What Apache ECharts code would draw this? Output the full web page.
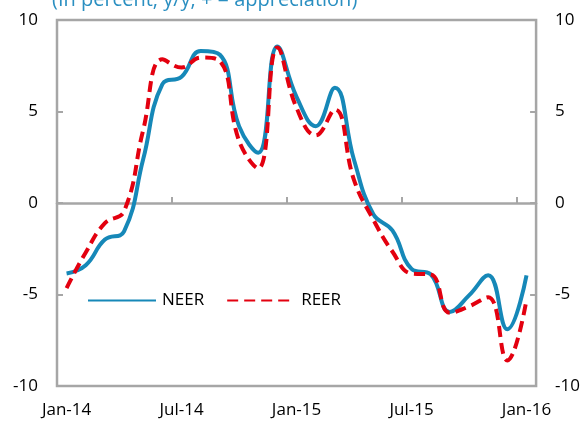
<!DOCTYPE html>
<html>
<head>
<meta charset="utf-8">
<script src="https://cdn.jsdelivr.net/npm/echarts@6/dist/echarts.min.js"></script>
<style>
  html, body { margin: 0; padding: 0; background: #fff; }
  #chart { width: 583px; height: 424px; }
</style>
</head>
<body>
<div id="chart"></div>
<script>
// monthly, Jan-14 .. Jan-16
const months = [
  "Jan-14", "Feb-14", "Mar-14", "Apr-14", "May-14", "Jun-14", "Jul-14", "Aug-14", "Sep-14", "Oct-14", "Nov-14", "Dec-14",
  "Jan-15", "Feb-15", "Mar-15", "Apr-15", "May-15", "Jun-15", "Jul-15", "Aug-15", "Sep-15", "Oct-15", "Nov-15", "Dec-15",
  "Jan-16"
];
const neer = [-3.85, -3.4, -2.0, -1.55, 2.4, 6.5, 6.9, 8.3, 8.1, 4.2, 2.75, 8.55,
  5.8, 4.2, 6.3, 2.35, -0.6, -1.5, -3.6, -3.9, -5.95, -5.05, -3.95, -6.9, -3.95];
const reer = [-4.65, -2.7, -1.1, -0.45, 4.0, 7.85, 7.4, 7.95, 7.75, 3.4, 1.9, 8.5,
  5.2, 3.7, 5.1, 1.25, -0.9, -2.65, -3.85, -3.9, -6.0, -5.65, -5.15, -8.6, -5.3];
const yMin = -10, yMax = 10, yStep = 5;
const subtitle = "(In percent, y/y, + = appreciation)";

const font = "'Open Sans', sans-serif";
const gray = "#a6a6a6";

const chart = echarts.init(document.getElementById("chart"));

function valueAxis(position) {
  return {
    type: "value",
    position: position,
    min: yMin,
    max: yMax,
    interval: yStep,
    splitLine: { show: false },
    axisLine: { show: false },
    axisTick: { show: true, inside: true, length: 6, lineStyle: { color: gray, width: 2 } },
    axisLabel: { color: "#000", fontSize: 17, fontFamily: font, margin: 19 }
  };
}

chart.setOption({
  animation: false,
  grid: {
    left: 57, right: 46, top: 20, bottom: 38,
    show: true, borderColor: gray, borderWidth: 2.5, backgroundColor: "#fff"
  },
  graphic: [{
    type: "text",
    left: 52,
    top: -10,
    style: { text: subtitle, fill: "#2a8fc1", font: "20px " + font }
  }],
  legend: {
    left: 82,
    top: 287,
    itemWidth: 68,
    itemHeight: 14,
    itemGap: 22,
    itemStyle: { opacity: 0 },
    textStyle: { color: "#000", fontSize: 17, fontFamily: font, padding: [0, 0, 0, 1] },
    data: ["NEER", "REER"]
  },
  xAxis: [{
    type: "category",
    data: months,
    position: "bottom",
    axisLine: { show: false, onZero: false },
    axisTick: { show: false },
    axisLabel: { interval: 5, color: "#000", fontSize: 17, fontFamily: font, margin: 16 }
  }, {
    type: "category",
    data: months,
    position: "top",
    axisLine: { show: true, onZero: true, lineStyle: { color: gray, width: 2.5 } },
    axisTick: { show: true, interval: 5, length: 6, lineStyle: { color: gray, width: 2 } },
    axisLabel: { show: false }
  }],
  yAxis: [valueAxis("left"), valueAxis("right")],
  series: [{
    name: "NEER",
    type: "line",
    data: neer,
    smooth: 0.45,
    symbol: "none",
    color: "#1688b8",
    lineStyle: { width: 4, color: "#1688b8" },
    z: 3
  }, {
    name: "REER",
    type: "line",
    data: reer,
    smooth: 0.45,
    symbol: "none",
    color: "#e3000f",
    lineStyle: { width: 4, color: "#e3000f", type: [11, 6] },
    z: 4
  }]
});
</script>
</body>
</html>
